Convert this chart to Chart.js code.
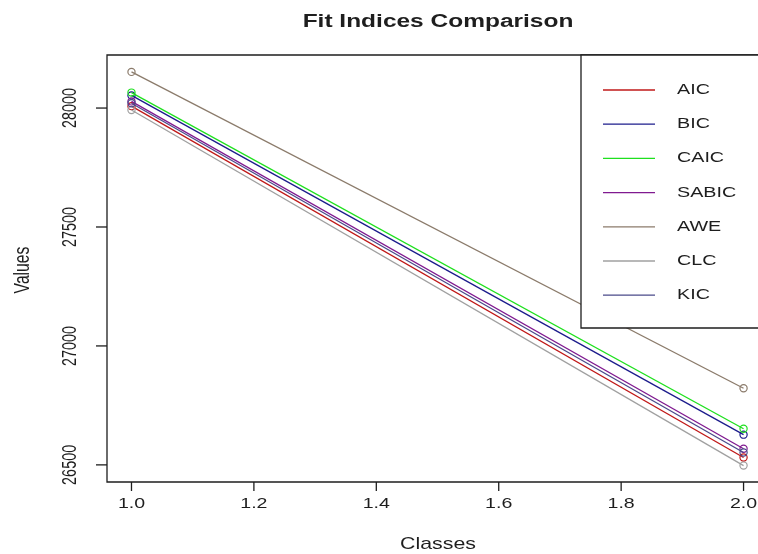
<!DOCTYPE html>
<html><head><meta charset="utf-8">
<script src="https://cdn.jsdelivr.net/npm/chart.js@4/dist/chart.umd.min.js"></script>
<style>html,body{margin:0;padding:0;background:#fff;} canvas{display:block;}</style>
</head><body>
<canvas id="c" width="758" height="554"></canvas>
<script>
const classes = [1, 2];
const seriesNames = ['AIC', 'BIC', 'CAIC', 'SABIC', 'AWE', 'CLC', 'KIC'];
const aic   = [28008, 26531];
const bic   = [28053, 26627];
const caic  = [28065, 26652];
const sabic = [28028, 26568];
const awe   = [28152, 26822];
const clc   = [27992, 26497];
const kic   = [28020, 26552];
const xTicks = [1.0, 1.2, 1.4, 1.6, 1.8, 2.0];
const yTicks = [26500, 27000, 27500, 28000];
const titleText = 'Fit Indices Comparison';
const xTitle = 'Classes';
const yTitle = 'Values';

const seriesValues = [aic, bic, caic, sabic, awe, clc, kic];
const colors = ['#c01818', '#1c1c8c', '#1ee01e', '#801a90', '#8b7b6b', '#a0a0a0', '#4a4a8a'];

const SX = 1.36;
const FONT = '"Liberation Sans", Arial, sans-serif';
const INK = '#1e1e1e';

function stretchedText(ctx, txt, x, y, size, opts) {
  opts = opts || {};
  ctx.save();
  ctx.translate(x, y);
  ctx.scale(SX, 1);
  if (opts.rotate) ctx.rotate(opts.rotate);
  ctx.font = (opts.bold ? 'bold ' : '') + size + 'px ' + FONT;
  ctx.fillStyle = INK;
  ctx.textAlign = opts.align || 'center';
  ctx.textBaseline = 'middle';
  ctx.fillText(txt, 0, 0);
  ctx.restore();
}

const decor = {
  id: 'decor',
  afterDatasetsDraw(chart) {
    const ctx = chart.ctx;
    const a = chart.chartArea;
    const xs = chart.scales.x, ys = chart.scales.y;
    ctx.save();
    ctx.strokeStyle = INK;
    ctx.lineWidth = 1.3;
    // plot box (right side lies outside the picture)
    ctx.beginPath();
    ctx.moveTo(chart.width + 2, a.top); ctx.lineTo(a.left, a.top);
    ctx.lineTo(a.left, a.bottom); ctx.lineTo(chart.width + 2, a.bottom);
    ctx.stroke();
    // x ticks
    xTicks.forEach(t => {
      const px = xs.getPixelForValue(t);
      ctx.beginPath(); ctx.moveTo(px, a.bottom); ctx.lineTo(px, a.bottom + 9); ctx.stroke();
      stretchedText(ctx, t.toFixed(1), px, 504, 14.4);
    });
    // y ticks
    yTicks.forEach(t => {
      const py = ys.getPixelForValue(t);
      ctx.beginPath(); ctx.moveTo(a.left - 11, py); ctx.lineTo(a.left, py); ctx.stroke();
      stretchedText(ctx, String(t), 71, py, 14.4, {rotate: -Math.PI / 2});
    });
    stretchedText(ctx, xTitle, 438, 545, 15.7);
    stretchedText(ctx, yTitle, 23, 270, 15.7, {rotate: -Math.PI / 2});
    stretchedText(ctx, titleText, 438, 22, 18, {bold: true});

    // legend
    const lx = 581, ly = a.top, lb = 328;
    ctx.fillStyle = '#fff';
    ctx.fillRect(lx, ly, chart.width - lx + 5, lb - ly);
    ctx.beginPath();
    ctx.moveTo(chart.width + 2, ly); ctx.lineTo(lx, ly); ctx.lineTo(lx, lb); ctx.lineTo(chart.width + 2, lb);
    ctx.stroke();
    chart.data.datasets.forEach((ds, i) => {
      const y = 90 + i * 34.2;
      ctx.strokeStyle = ds.borderColor;
      ctx.lineWidth = 1.3;
      ctx.beginPath(); ctx.moveTo(603, y); ctx.lineTo(655, y); ctx.stroke();
      stretchedText(ctx, ds.label, 677, y, 14.5, {align: 'left'});
    });
    ctx.restore();
  }
};

const datasets = seriesNames.map((name, i) => ({
  label: name,
  data: classes.map((c, j) => ({x: c, y: seriesValues[i][j]})),
  borderColor: colors[i],
  backgroundColor: 'rgba(0,0,0,0)',
  pointBackgroundColor: 'rgba(0,0,0,0)',
  pointBorderColor: colors[i],
  pointRadius: 3.6,
  pointBorderWidth: 1.2,
  borderWidth: 1.3,
  tension: 0,
  order: seriesNames.length - i
}));

new Chart(document.getElementById('c'), {
  type: 'line',
  data: {datasets},
  options: {
    responsive: false,
    animation: false,
    devicePixelRatio: 1,
    layout: {padding: {left: 107, top: 55, right: 0, bottom: 72}},
    scales: {
      x: {type: 'linear', min: 0.96, max: 2.0151, display: false},
      y: {type: 'linear', min: 26428, max: 28223, display: false}
    },
    plugins: {legend: {display: false}, title: {display: false}, tooltip: {enabled: false}},
    elements: {line: {fill: false}}
  },
  plugins: [decor]
});
</script>
</body></html>
